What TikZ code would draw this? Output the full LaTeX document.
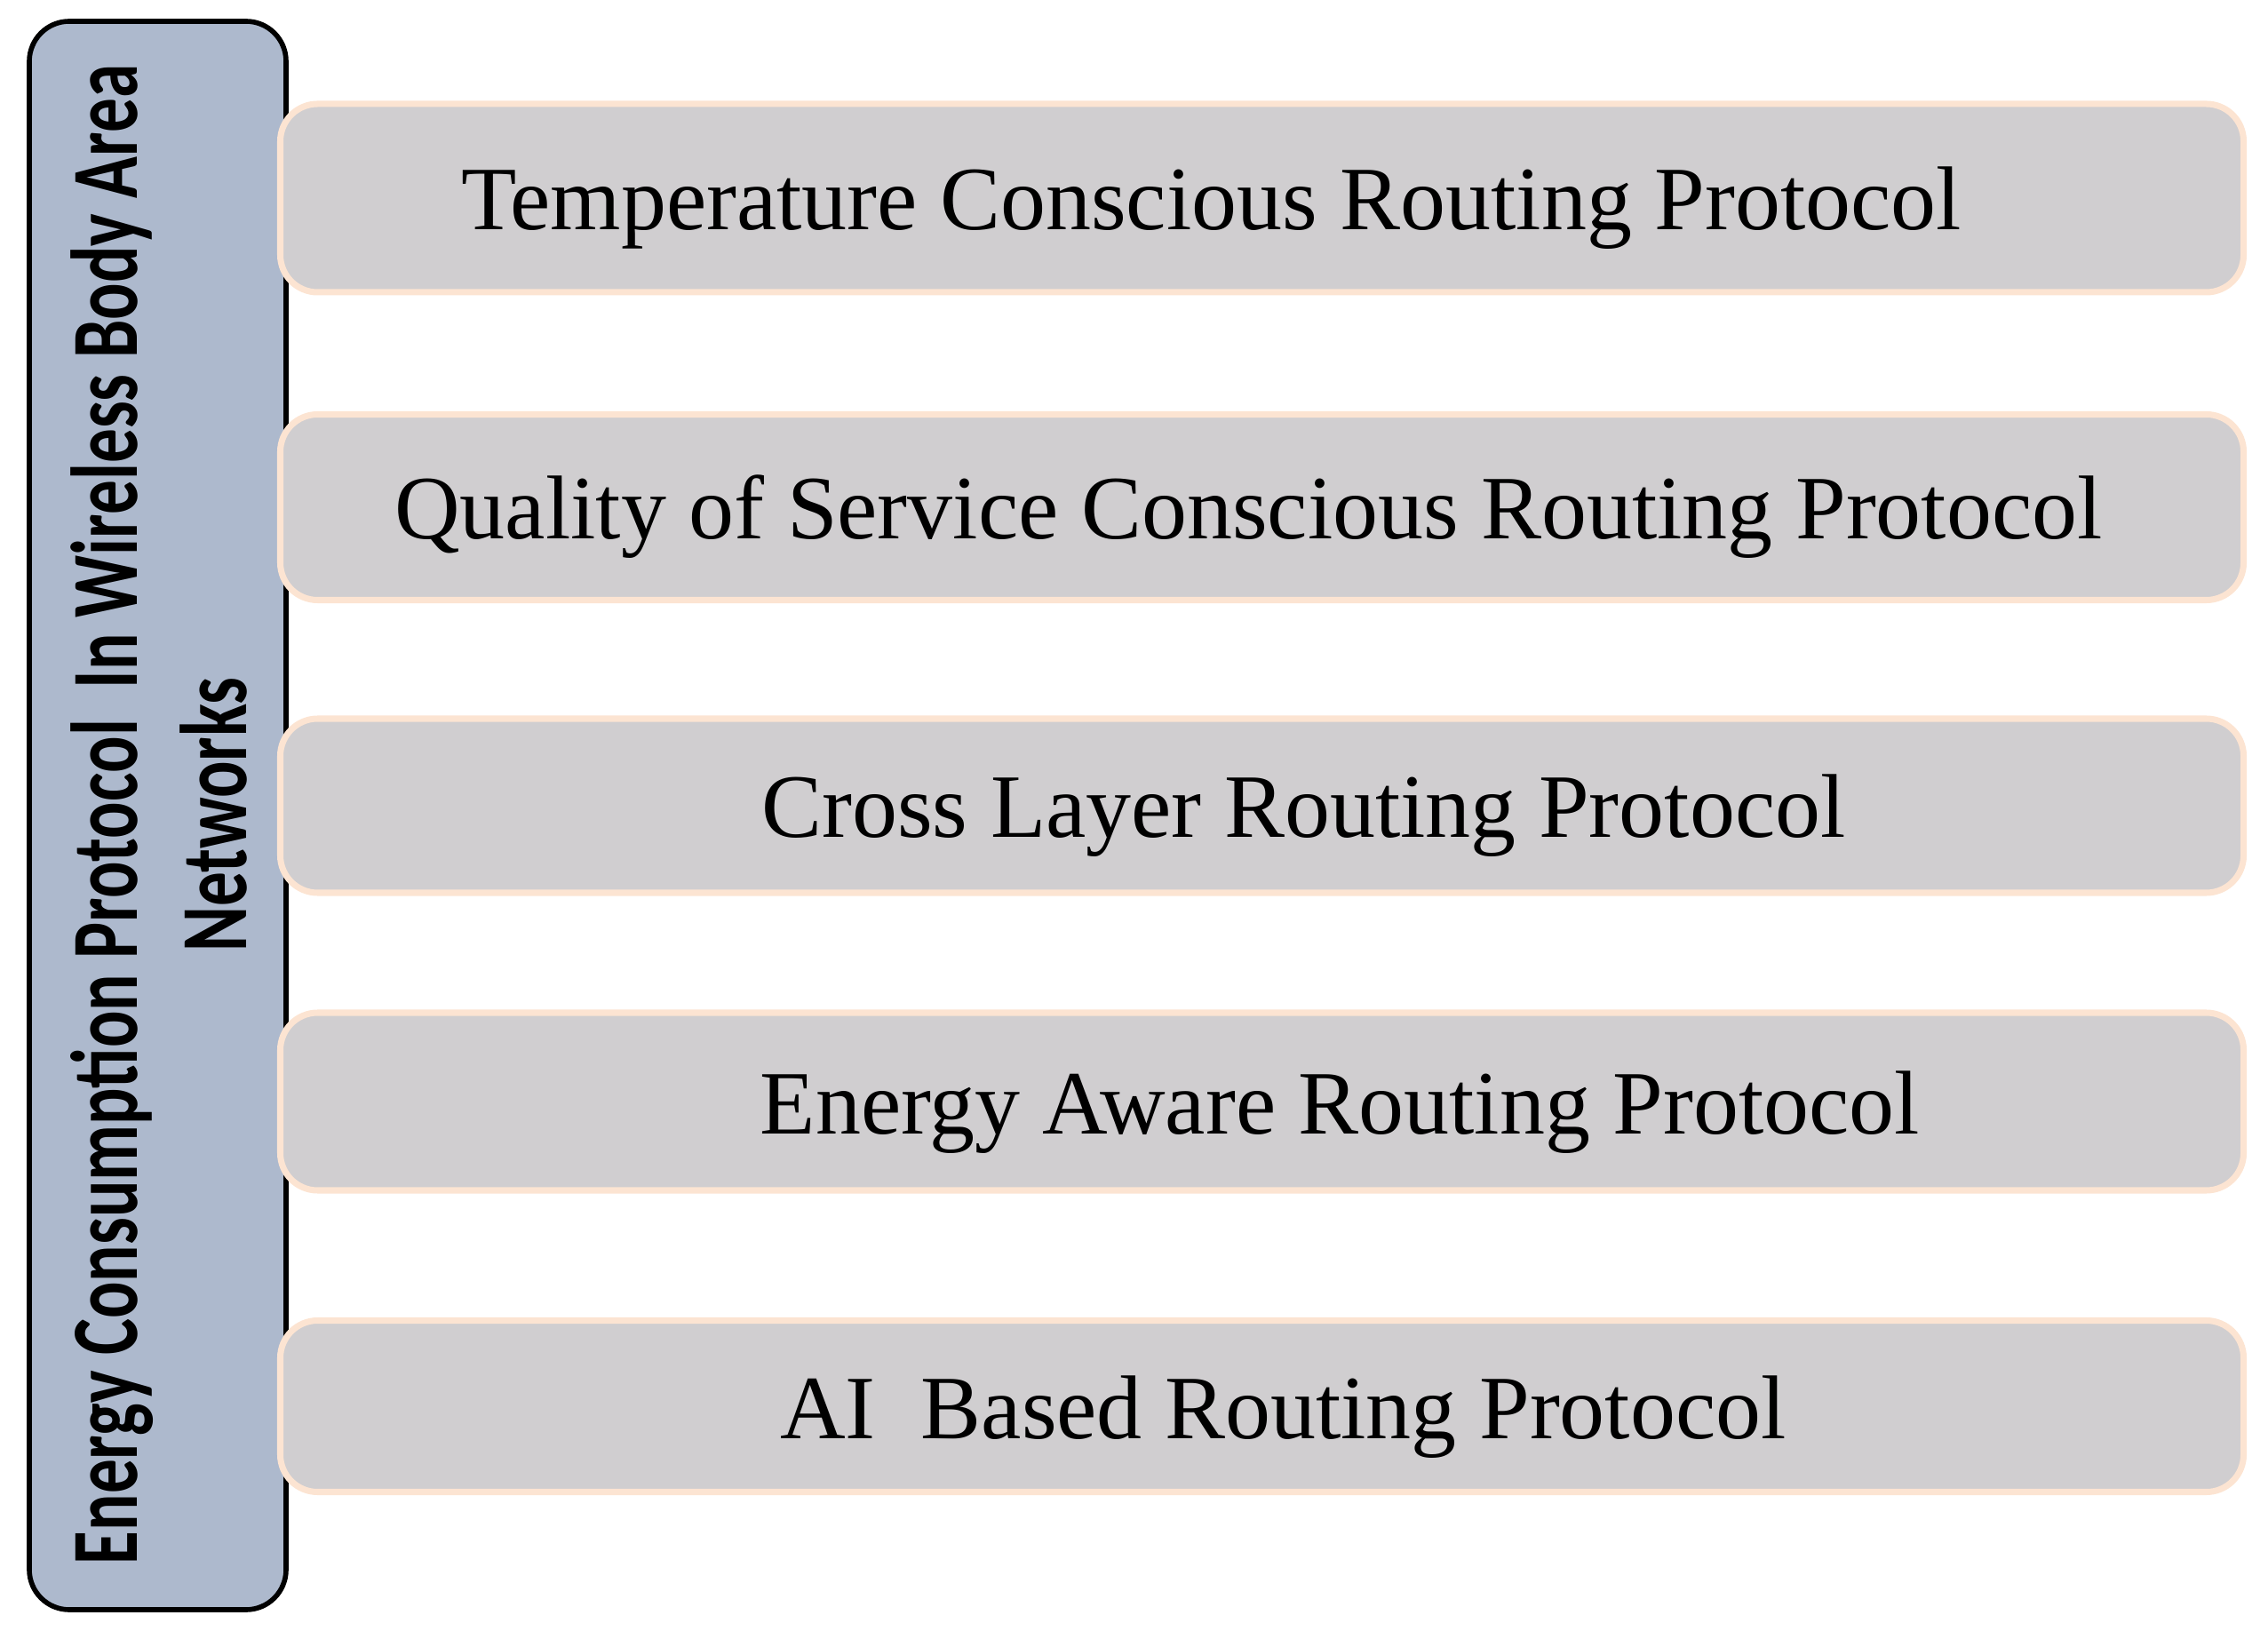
\documentclass[tikz,border=0pt]{standalone}
\usepackage{fontspec}
\setmainfont{Liberation Serif}
\newfontfamily\labelfont{Carlito}
\usetikzlibrary{positioning}
\definecolor{sidefill}{RGB}{173,185,205}
\definecolor{protfill}{RGB}{208,206,208}
\definecolor{protedge}{RGB}{252,228,210}
\tikzset{
    sidebox/.style={draw=black, line width=1.6pt, fill=sidefill, rounded corners=0.45cm},
    protbox/.style={draw=protedge, line width=2pt, fill=protfill, rounded corners=0.42cm,
        minimum width=22.1cm, minimum height=2cm, inner sep=0pt},
    prottext/.style={anchor=base, inner sep=0pt, font=\fontsize{29}{34}\selectfont},
}

\begin{document}
\begin{tikzpicture}
    \useasboundingbox (0,0) rectangle (25.53,18.44);

    % side bar
    \draw[sidebox] (0.33,0.32) rectangle (3.22,18.20);
    \node[rotate=90, yscale=1.38, align=center, inner sep=0pt,
          font=\labelfont\bfseries\fontsize{22}{25.5}\selectfont]
          (side) at (1.79,9.27) {Energy Consumption Protocol\ \ In Wireless Body Area\\Networks};

    % protocols
    \node[protbox, minimum height=2.12cm] (temp) at (14.205,16.21) {};
    \node[protbox, minimum height=2.09cm] (qos) at (14.205,12.73) {};
    \node[protbox, minimum height=1.96cm] (cross) at (14.205,9.37) {};
    \node[protbox, minimum height=2.00cm] (energy) at (14.205,6.04) {};
    \node[protbox, minimum height=1.93cm] (ai) at (14.205,2.61) {};

    \node[prottext] (tempTxt) at ([xshift=-0.57cm, yshift=-0.36cm]temp.center) {Temperature Conscious Routing Protocol};
    \node[prottext] (qosTxt) at ([xshift=-0.15cm, yshift=-0.36cm]qos.center) {Quality of Service Conscious Routing Protocol};
    \node[prottext] (crossTxt) at ([xshift=0.47cm, yshift=-0.36cm]cross.center) {Cross Layer Routing Protocol};
    \node[prottext] (energyTxt) at ([xshift=0.88cm, yshift=-0.36cm]energy.center) {Energy Aware Routing Protocol};
    \node[prottext] (aiTxt) at ([xshift=0.24cm, yshift=-0.36cm]ai.center) {AI\ \ Based Routing Protocol};
\end{tikzpicture}
\end{document}
